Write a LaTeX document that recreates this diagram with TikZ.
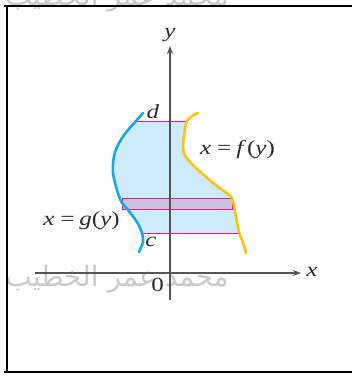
\documentclass[tikz,border=0pt]{standalone}
\usepackage{fontspec}
\setmainfont{Liberation Serif}
\newfontfamily\lblfont[FakeStretch=1.25]{Liberation Serif}
\newfontfamily\arabicfont[Script=Arabic]{DejaVu Sans}
\TeXXeTstate=1
\usetikzlibrary{arrows.meta}
\definecolor{gcurve}{HTML}{1AA7E2}
\definecolor{fcurve}{HTML}{FFC20E}
\definecolor{regionfill}{HTML}{CDEBFA}
\definecolor{stripfill}{HTML}{C9C3E0}
\definecolor{pinkline}{HTML}{E5188C}
\definecolor{axisgray}{HTML}{555555}
\definecolor{wmgray}{HTML}{CACACA}
\definecolor{txt}{HTML}{2A2A2A}
\begin{document}
\begin{tikzpicture}[x=1pt,y=-1pt,
  frameline/.style={line width=2.6pt,black},
  axisline/.style={line width=1.4pt,axisgray,-{Stealth[length=8pt,width=6pt,inset=2.5pt]}},
  curveg/.style={line width=2.6pt,gcurve,line cap=round},
  curvef/.style={line width=2.6pt,fcurve,line cap=round},
  limitline/.style={line width=0.8pt,pinkline},
  lbl/.style={inner sep=0pt,text=txt,font=\lblfont\fontsize{20}{20}\selectfont},
  wm/.style={inner sep=0pt,text=wmgray,font=\arabicfont\fontsize{28}{28}\selectfont}
]
\useasboundingbox (0,0) rectangle (352,378);
% watermarks
\node[wm] (wmtop) at (117,-2) {\beginR محمد عمر الخطيب\endR};
\node[wm] (wmbot) at (117,279) {\beginR محمد عمر الخطيب\endR};
% frame
\draw[frameline] (4,6) -- (352,6);
\draw[frameline] (7,6) -- (7,372);
\draw[frameline] (4,372) -- (352,372);
% shaded region
\begin{scope}
\clip (0,121) rectangle (352,233);
\fill[regionfill] plot[smooth] coordinates {(143,113) (136,121) (124,135) (115,152) (113,173) (120,199) (128,210) (137,222) (142,233) (143,242) (139,252)}
  -- plot[smooth] coordinates {(246,253) (243,243) (239,232) (235,212) (231,197) (213,183) (189,161) (183,148) (187,121) (198,113)} -- cycle;
\end{scope}
% limit lines
\coordinate (dl) at (136,121); \coordinate (dr) at (187,121);
\coordinate (cl) at (142,233); \coordinate (cr) at (239,233);
\draw[limitline] (dl) -- (dr);
\draw[limitline] (cl) -- (cr);
% strip
\node[draw=pinkline,fill=stripfill,line width=0.9pt,minimum width=110pt,minimum height=11pt,inner sep=0pt] (strip) at (177.5,203.5) {};
% curves
\draw[curveg] plot[smooth] coordinates {(143,113) (136,121) (124,135) (115,152) (113,173) (120,199) (128,210) (137,222) (142,233) (143,242) (139,252)};
\draw[curvef] plot[smooth] coordinates {(198,113) (187,121) (183,148) (189,161) (213,183) (231,197) (235,212) (239,232) (243,243) (246,253)};
% axes
\coordinate (ybot) at (170,300); \coordinate (ytop) at (170,46);
\coordinate (xleft) at (35,273); \coordinate (xright) at (301,273);
\draw[axisline] (ybot) -- (ytop);
\draw[axisline] (xleft) -- (xright);
% labels
\node[lbl] (ylab) at (170,35) {\textit{y}};
\node[lbl] (xlab) at (312,272) {\textit{x}};
\node[lbl] (orig) at (157.5,285) {0};
\node[lbl] (dlab) at (153,112) {\textit{d}};
\node[lbl] (clab) at (151,242) {\textit{c}};
\node[lbl] (flab) at (237.5,150) {\textit{x}\hspace{6pt}=\hspace{5pt}\textit{f\/}\hspace{1pt}(\textit{y})};
\node[lbl] (glab) at (81.5,221) {\textit{x}\hspace{6pt}=\hspace{5pt}\textit{g}(\textit{y})};
\end{tikzpicture}
\end{document}
